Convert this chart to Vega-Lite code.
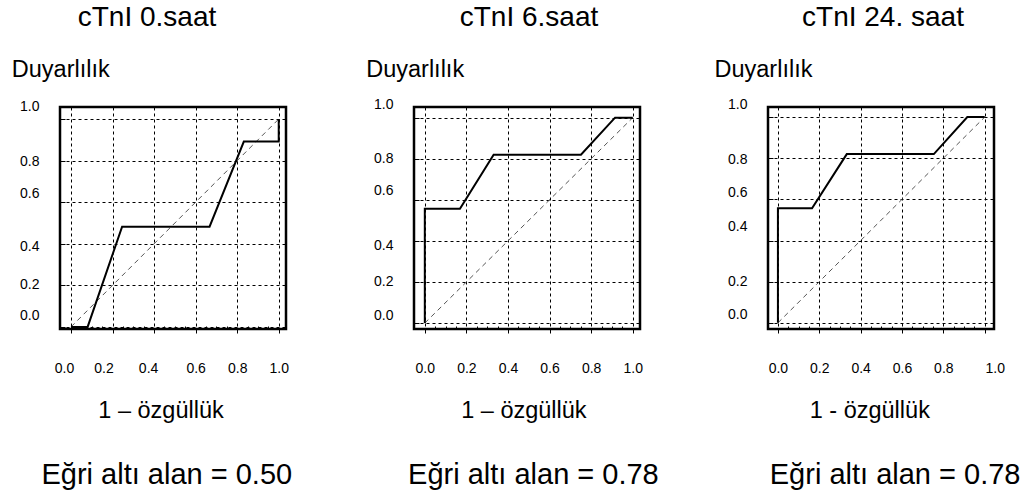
{
  "$schema": "https://vega.github.io/schema/vega-lite/v6.json",
  "background": "white",
  "padding": {"left": 10, "top": 3, "right": 0, "bottom": 0},
  "spacing": 128,
  "bounds": "flush",
  "config": {
    "font": "Liberation Sans",
    "view": {"stroke": "black", "strokeWidth": 2.5},
    "axis": {
      "labelFont": "Liberation Sans", "labelColor": "black", "labelFontSize": 14,
      "titleFont": "Liberation Sans", "titleColor": "black", "titleFontWeight": "normal", "titleFontSize": 23.5,
      "domain": false, "grid": true, "gridColor": "black", "gridDash": [3, 3], "gridWidth": 1,
      "tickColor": "black", "tickWidth": 1, "labelOverlap": false, "labelFlush": false
    },
    "title": {"font": "Liberation Sans", "fontWeight": "normal", "color": "black", "fontSize": 28}
  },
  "datasets": {
    "diag": [{"x": 0, "y": 0, "i": 0}, {"x": 1, "y": 1, "i": 1}],
    "roc1": [
      {"x": 0, "y": 0, "i": 0}, {"x": 0.08, "y": 0, "i": 1}, {"x": 0.246, "y": 0.482, "i": 2},
      {"x": 0.667, "y": 0.482, "i": 3}, {"x": 0.832, "y": 0.892, "i": 4}, {"x": 1.0, "y": 0.892, "i": 5},
      {"x": 1.0, "y": 1.0, "i": 6}
    ],
    "roc2": [
      {"x": 0, "y": 0, "i": 0}, {"x": 0, "y": 0.557, "i": 1}, {"x": 0.169, "y": 0.557, "i": 2},
      {"x": 0.331, "y": 0.82, "i": 3}, {"x": 0.751, "y": 0.82, "i": 4}, {"x": 0.915, "y": 1.0, "i": 5},
      {"x": 1.0, "y": 1.0, "i": 6}
    ],
    "roc3": [
      {"x": 0, "y": 0, "i": 0}, {"x": 0, "y": 0.557, "i": 1}, {"x": 0.165, "y": 0.557, "i": 2},
      {"x": 0.333, "y": 0.82, "i": 3}, {"x": 0.754, "y": 0.82, "i": 4}, {"x": 0.916, "y": 1.0, "i": 5},
      {"x": 1.0, "y": 1.0, "i": 6}
    ]
  },
  "hconcat": [
    {
      "width": 226, "height": 222,
      "title": {"text": "cTnI 0.saat", "anchor": "middle", "frame": "group", "dx": -26, "offset": -3, "baseline": "bottom"},
      "resolve": {"axis": {"x": "independent"}},
      "layer": [
        {
          "data": {"name": "diag"},
          "mark": {"type": "line", "color": "#555555", "strokeWidth": 1, "strokeDash": [5, 4]},
          "encoding": {
            "x": {"field": "x", "type": "quantitative", "scale": {"domain": [-0.053, 1.035], "nice": false, "zero": false},
              "axis": {
                "values": [0, 0.05, 0.1, 0.15, 0.2, 0.25, 0.3, 0.35, 0.4, 0.45, 0.5, 0.55, 0.6, 0.65, 0.7, 0.75, 0.8, 0.85, 0.9, 0.95, 1],
                "gridOpacity": {"condition": {"test": "abs(datum.value*5-round(datum.value*5))<0.001", "value": 1}, "value": 0},
                "tickSize": {"condition": {"test": "abs(datum.value*5-round(datum.value*5))<0.001", "value": 4}, "value": -3},
                "labelExpr": "abs(datum.value*5-round(datum.value*5))<0.001 ? format(datum.value, '.1f') : ''",
                "labelPadding": 28,
                "labelOffset": {"condition": [{"test": "datum.value == 0", "value": -7}, {"test": "datum.value == 0.2", "value": -9}, {"test": "datum.value == 0.4", "value": -6}], "value": 0},
                "title": "1 – özgüllük", "titleX": 100.5, "titleY": 88, "titleAlign": "center", "titleBaseline": "alphabetic"
              }},
            "y": {"field": "y", "type": "quantitative", "scale": {"domain": [-0.01, 1.058], "nice": false, "zero": false},
              "axis": {
                "values": [0, 0.05, 0.1, 0.15, 0.2, 0.25, 0.3, 0.35, 0.4, 0.45, 0.5, 0.55, 0.6, 0.65, 0.7, 0.75, 0.8, 0.85, 0.9, 0.95, 1],
                "gridOpacity": {"condition": {"test": "abs(datum.value*5-round(datum.value*5))<0.001", "value": 1}, "value": 0},
                "tickSize": {"condition": {"test": "abs(datum.value*5-round(datum.value*5))<0.001", "value": -5}, "value": -3},
                "labelExpr": "abs(datum.value*5-round(datum.value*5))<0.001 ? format(datum.value, '.1f') : ''",
                "labelPadding": 26,
                "labelOffset": {"condition": [{"test": "datum.value == 1", "value": -13}, {"test": "datum.value == 0.8", "value": 1}, {"test": "datum.value == 0.6", "value": -9}, {"test": "datum.value == 0.4", "value": 3}, {"test": "datum.value == 0.2", "value": -1}, {"test": "datum.value == 0", "value": -11}], "value": 0},
                "title": "Duyarlılık", "titleAngle": 0, "titleX": -48.7, "titleY": -30.7, "titleAlign": "left", "titleBaseline": "alphabetic"
              }}
          }
        },
        {
          "data": {"name": "roc1"},
          "mark": {"type": "line", "color": "black", "strokeWidth": 2},
          "encoding": {
            "x": {"field": "x", "type": "quantitative", "scale": {"domain": [-0.053, 1.035], "nice": false, "zero": false},
              "axis": {"orient": "bottom", "labels": false, "ticks": false, "grid": false, "domain": false,
                "title": "Eğri altı alan = 0.50", "titleFontSize": 29, "titleX": 106.3, "titleY": 154, "titleAlign": "center", "titleBaseline": "alphabetic"}},
            "y": {"field": "y", "type": "quantitative", "scale": {"domain": [-0.01, 1.058], "nice": false, "zero": false}},
            "order": {"field": "i", "type": "quantitative"}
          }
        }
      ]
    },
    {
      "width": 226, "height": 222,
      "title": {"text": "cTnI 6.saat", "anchor": "middle", "frame": "group", "dx": 2, "offset": -3, "baseline": "bottom"},
      "resolve": {"axis": {"x": "independent"}},
      "layer": [
        {
          "data": {"name": "diag"},
          "mark": {"type": "line", "color": "#555555", "strokeWidth": 1, "strokeDash": [5, 4]},
          "encoding": {
            "x": {"field": "x", "type": "quantitative", "scale": {"domain": [-0.052, 1.035], "nice": false, "zero": false},
              "axis": {
                "values": [0, 0.05, 0.1, 0.15, 0.2, 0.25, 0.3, 0.35, 0.4, 0.45, 0.5, 0.55, 0.6, 0.65, 0.7, 0.75, 0.8, 0.85, 0.9, 0.95, 1],
                "gridOpacity": {"condition": {"test": "abs(datum.value*5-round(datum.value*5))<0.001", "value": 1}, "value": 0},
                "tickSize": {"condition": {"test": "abs(datum.value*5-round(datum.value*5))<0.001", "value": 4}, "value": -3},
                "labelExpr": "abs(datum.value*5-round(datum.value*5))<0.001 ? format(datum.value, '.1f') : ''",
                "labelPadding": 28,
                "title": "1 – özgüllük", "titleX": 109.4, "titleY": 88, "titleAlign": "center", "titleBaseline": "alphabetic"
              }},
            "y": {"field": "y", "type": "quantitative", "scale": {"domain": [-0.029, 1.052], "nice": false, "zero": false},
              "axis": {
                "values": [0, 0.05, 0.1, 0.15, 0.2, 0.25, 0.3, 0.35, 0.4, 0.45, 0.5, 0.55, 0.6, 0.65, 0.7, 0.75, 0.8, 0.85, 0.9, 0.95, 1],
                "gridOpacity": {"condition": {"test": "abs(datum.value*5-round(datum.value*5))<0.001", "value": 1}, "value": 0},
                "tickSize": {"condition": {"test": "abs(datum.value*5-round(datum.value*5))<0.001", "value": -5}, "value": -3},
                "labelExpr": "abs(datum.value*5-round(datum.value*5))<0.001 ? format(datum.value, '.1f') : ''",
                "labelPadding": 26,
                "labelOffset": {"condition": [{"test": "datum.value == 1", "value": -13}, {"test": "datum.value == 0.6", "value": -9}, {"test": "datum.value == 0.4", "value": 5}, {"test": "datum.value == 0", "value": -8}], "value": 0},
                "title": "Duyarlılık", "titleAngle": 0, "titleX": -48.3, "titleY": -30.7, "titleAlign": "left", "titleBaseline": "alphabetic"
              }}
          }
        },
        {
          "data": {"name": "roc2"},
          "mark": {"type": "line", "color": "black", "strokeWidth": 2},
          "encoding": {
            "x": {"field": "x", "type": "quantitative", "scale": {"domain": [-0.052, 1.035], "nice": false, "zero": false},
              "axis": {"orient": "bottom", "labels": false, "ticks": false, "grid": false, "domain": false,
                "title": "Eğri altı alan = 0.78", "titleFontSize": 29, "titleX": 118.9, "titleY": 154, "titleAlign": "center", "titleBaseline": "alphabetic"}},
            "y": {"field": "y", "type": "quantitative", "scale": {"domain": [-0.029, 1.052], "nice": false, "zero": false}},
            "order": {"field": "i", "type": "quantitative"}
          }
        }
      ]
    },
    {
      "width": 226, "height": 222,
      "title": {"text": "cTnI 24. saat", "anchor": "middle", "frame": "group", "dx": 2, "offset": -3, "baseline": "bottom"},
      "resolve": {"axis": {"x": "independent"}},
      "layer": [
        {
          "data": {"name": "diag"},
          "mark": {"type": "line", "color": "#555555", "strokeWidth": 1, "strokeDash": [5, 4]},
          "encoding": {
            "x": {"field": "x", "type": "quantitative", "scale": {"domain": [-0.048, 1.045], "nice": false, "zero": false},
              "axis": {
                "values": [0, 0.05, 0.1, 0.15, 0.2, 0.25, 0.3, 0.35, 0.4, 0.45, 0.5, 0.55, 0.6, 0.65, 0.7, 0.75, 0.8, 0.85, 0.9, 0.95, 1],
                "gridOpacity": {"condition": {"test": "abs(datum.value*5-round(datum.value*5))<0.001", "value": 1}, "value": 0},
                "tickSize": {"condition": {"test": "abs(datum.value*5-round(datum.value*5))<0.001", "value": 4}, "value": -3},
                "labelExpr": "abs(datum.value*5-round(datum.value*5))<0.001 ? format(datum.value, '.1f') : ''",
                "labelPadding": 28,
                "labelOffset": {"condition": [{"test": "datum.value == 1", "value": 10}], "value": 0},
                "title": "1 - özgüllük", "titleX": 101.3, "titleY": 88, "titleAlign": "center", "titleBaseline": "alphabetic"
              }},
            "y": {"field": "y", "type": "quantitative", "scale": {"domain": [-0.03, 1.049], "nice": false, "zero": false},
              "axis": {
                "values": [0, 0.05, 0.1, 0.15, 0.2, 0.25, 0.3, 0.35, 0.4, 0.45, 0.5, 0.55, 0.6, 0.65, 0.7, 0.75, 0.8, 0.85, 0.9, 0.95, 1],
                "gridOpacity": {"condition": {"test": "abs(datum.value*5-round(datum.value*5))<0.001", "value": 1}, "value": 0},
                "tickSize": {"condition": {"test": "abs(datum.value*5-round(datum.value*5))<0.001", "value": -5}, "value": -3},
                "labelExpr": "abs(datum.value*5-round(datum.value*5))<0.001 ? format(datum.value, '.1f') : ''",
                "labelPadding": 26,
                "labelOffset": {"condition": [{"test": "datum.value == 1", "value": -13}, {"test": "datum.value == 0.8", "value": 1}, {"test": "datum.value == 0.6", "value": -7}, {"test": "datum.value == 0.4", "value": -14}, {"test": "datum.value == 0", "value": -8}], "value": 0},
                "title": "Duyarlılık", "titleAngle": 0, "titleX": -54, "titleY": -30.7, "titleAlign": "left", "titleBaseline": "alphabetic"
              }}
          }
        },
        {
          "data": {"name": "roc3"},
          "mark": {"type": "line", "color": "black", "strokeWidth": 2},
          "encoding": {
            "x": {"field": "x", "type": "quantitative", "scale": {"domain": [-0.048, 1.045], "nice": false, "zero": false},
              "axis": {"orient": "bottom", "labels": false, "ticks": false, "grid": false, "domain": false,
                "title": "Eğri altı alan = 0.78", "titleFontSize": 29, "titleX": 126.6, "titleY": 154, "titleAlign": "center", "titleBaseline": "alphabetic"}},
            "y": {"field": "y", "type": "quantitative", "scale": {"domain": [-0.03, 1.049], "nice": false, "zero": false}},
            "order": {"field": "i", "type": "quantitative"}
          }
        }
      ]
    }
  ]
}
